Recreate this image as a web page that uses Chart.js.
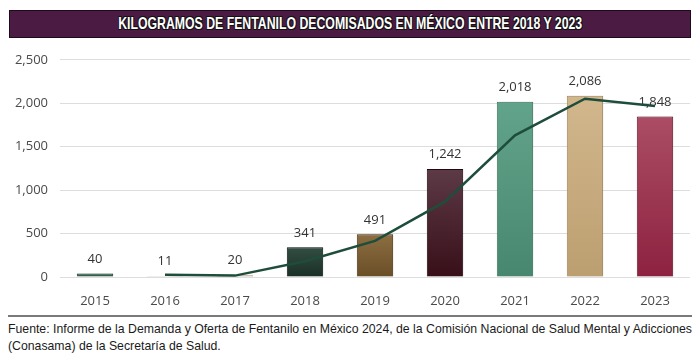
<!DOCTYPE html>
<html lang="es">

<head>
    <meta charset="UTF-8">
    <title>Fentanilo decomisado</title>
    <style>
        body {
            margin: 0;
            width: 700px;
            height: 362px;
            background: #ffffff;
            position: relative;
            overflow: hidden;
        }

        .titulo {
            position: absolute;
            left: 9px;
            top: 10px;
            width: 680px;
            height: 26px;
            background: #4b1b44;
            border: 1px solid #1d0a1a;
            text-align: center;
            overflow: hidden;
        }

        .titulo span {
            display: inline-block;
            color: #ffffff;
            font-family: "Liberation Sans", Arial, sans-serif;
            font-weight: bold;
            font-size: 17px;
            line-height: 26px;
            white-space: nowrap;
            transform-origin: center center;
            text-shadow: -1px -1px 0 #111, 1px -1px 0 #111, -1px 1px 0 #111, 1px 1px 0 #111;
        }

        .grafica {
            position: absolute;
            left: 0;
            top: 40px;
            width: 700px;
            height: 267px;
        }

        .linea {
            position: absolute;
            left: 8px;
            top: 315px;
            width: 684px;
            height: 2px;
            background: #7a7a7a;
        }

        .fuente {
            position: absolute;
            left: 8px;
            top: 320px;
            width: 700px;
        }

        .fuente span {
            display: block;
            width: max-content;
            font-family: "Liberation Sans", Arial, sans-serif;
            font-size: 13.5px;
            line-height: 17px;
            color: #1a1a1a;
            white-space: nowrap;
            transform-origin: left center;
        }
    </style>
    <script src="https://cdn.jsdelivr.net/npm/chart.js"></script>
</head>

<body>
    <div class="titulo"><span id="tit">KILOGRAMOS DE FENTANILO DECOMISADOS EN MÉXICO ENTRE 2018 Y 2023</span></div>
    <div class="grafica"><canvas id="fentaChart"></canvas></div>
    <div class="linea"></div>
    <div class="fuente">
        <span id="f1">Fuente: Informe de la Demanda y Oferta de Fentanilo en México 2024, de la Comisión Nacional de Salud Mental y Adicciones</span>
        <span id="f2">(Conasama) de la Secretaría de Salud.</span>
    </div>

    <script>
        const years = ['2015', '2016', '2017', '2018', '2019', '2020', '2021', '2022', '2023'];
        const kilos = [40, 11, 20, 341, 491, 1242, 2018, 2086, 1848];
        // trend line (starts at 2016)
        const trend = [null, 26, 16, 181, 416, 867, 1630, 2052, 1967];
        const yTicks = [0, 500, 1000, 1500, 2000, 2500];

        const barTop = ['#356b55', '#e0d0cc', '#d6c0ae', '#334d42', '#8c6e42', '#5c3a46', '#62a48b', '#d2b78d', '#ab4d64'];
        const barBottom = ['#2a5a46', '#d4c2bc', '#c8ae98', '#1a3026', '#6a4e26', '#380f19', '#48876f', '#bc9f70', '#8d2240'];
        const barEdge = ['#22473a', '#c9b3ab', '#bba08a', '#121f19', '#4e3a1c', '#250810', '#3f7a63', '#a88c60', '#7a1a34'];

        const gridColor = '#dddddd';
        const textColor = '#4a4a4a';
        const tickFont = { family: 'Open Sans, Lato, sans-serif', size: 13 };

        // squeeze condensed-looking text to the widths in the picture
        function fitWidth(el, w) {
            const real = el.getBoundingClientRect().width;
            const k = w / real;
            el.style.transform = 'scaleX(' + k + ')';
            return k;
        }
        fitWidth(document.getElementById('tit'), 464);
        const k = fitWidth(document.getElementById('f1'), 684);
        document.getElementById('f2').style.transform = 'scaleX(' + k + ')';

        function barFill(context) {
            const chart = context.chart;
            const area = chart.chartArea;
            const i = context.dataIndex;
            if (!area || !chart.scales.y) return barTop[i];
            const top = chart.scales.y.getPixelForValue(kilos[i]);
            const bottom = chart.scales.y.getPixelForValue(0);
            if (!isFinite(top) || !isFinite(bottom) || top === bottom) return barTop[i];
            const g = chart.ctx.createLinearGradient(0, top, 0, bottom);
            g.addColorStop(0, barTop[i]);
            g.addColorStop(1, barBottom[i]);
            return g;
        }

        const valueLabels = {
            id: 'valueLabels',
            afterDatasetDraw(chart, args) {
                if (args.index !== 0) return;
                const ctx = chart.ctx;
                ctx.save();
                ctx.font = '13px "Open Sans", Lato, sans-serif';
                ctx.fillStyle = '#333333';
                ctx.textAlign = 'center';
                ctx.textBaseline = 'bottom';
                args.meta.data.forEach((bar, i) => {
                    ctx.fillText(kilos[i].toLocaleString('en-US'), bar.x, bar.y - 8);
                });
                ctx.restore();
            }
        };

        const barShadow = {
            id: 'barShadow',
            beforeDatasetDraw(chart, args) {
                if (args.index !== 0) return;
                chart.ctx.save();
                chart.ctx.shadowColor = 'rgba(0,0,0,0.25)';
                chart.ctx.shadowBlur = 3;
                chart.ctx.shadowOffsetX = 1;
                chart.ctx.shadowOffsetY = 0;
            },
            afterDatasetDraw(chart, args) {
                if (args.index !== 0) return;
                chart.ctx.restore();
            }
        };

        new Chart(document.getElementById('fentaChart'), {
            data: {
                labels: years,
                datasets: [{
                    type: 'bar',
                    data: kilos,
                    backgroundColor: barFill,
                    borderColor: barEdge,
                    borderWidth: 1,
                    categoryPercentage: 1,
                    barPercentage: 0.52,
                    order: 2
                }, {
                    type: 'line',
                    data: trend,
                    borderColor: '#1f4d3b',
                    borderWidth: 2.5,
                    pointRadius: 0,
                    tension: 0,
                    fill: false,
                    order: 1
                }]
            },
            options: {
                responsive: true,
                maintainAspectRatio: false,
                animation: false,
                layout: { padding: { top: 16, right: 10, left: 0, bottom: 0 } },
                plugins: {
                    legend: { display: false },
                    tooltip: { enabled: false }
                },
                scales: {
                    x: {
                        grid: { display: false },
                        border: { display: false },
                        ticks: { color: textColor, font: tickFont, padding: 8 },
                        afterFit(scale) { scale.height = 30; }
                    },
                    y: {
                        min: 0,
                        max: 2500,
                        afterBuildTicks(scale) {
                            scale.ticks = yTicks.map(v => ({ value: v }));
                        },
                        grid: { color: gridColor, lineWidth: 1, drawTicks: false },
                        border: { display: false },
                        ticks: {
                            color: textColor,
                            font: tickFont,
                            padding: 12,
                            callback: v => v.toLocaleString('en-US')
                        },
                        afterFit(scale) { scale.width = 60; }
                    }
                }
            },
            plugins: [barShadow, valueLabels]
        });
    </script>
</body>

</html>
